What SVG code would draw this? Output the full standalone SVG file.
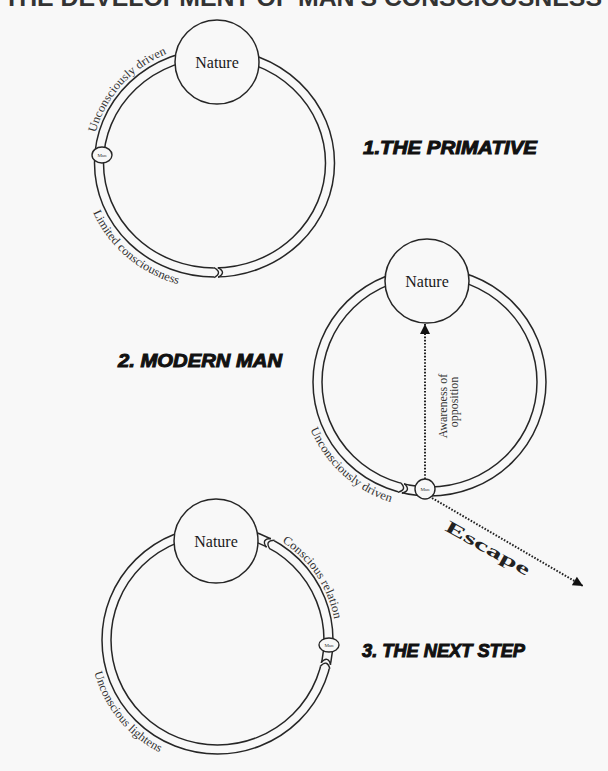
<svg xmlns="http://www.w3.org/2000/svg" width="608" height="771" viewBox="0 0 608 771">
<style>
.ring{fill:none;stroke:#262626;stroke-width:1.5}
.nat{fill:#f8f8f8;stroke:#262626;stroke-width:1.5}
.nt{font-family:"Liberation Serif","Times New Roman",serif;font-size:16px;fill:#1a1a1a;text-anchor:middle}
.lb{font-family:"Liberation Serif","Times New Roman",serif;font-size:12px;fill:#333}
.man{fill:#f8f8f8;stroke:#262626;stroke-width:1.4}
.mt{font-family:"Liberation Serif",serif;font-size:5px;fill:#333;text-anchor:middle}
.cr{fill:none;stroke:#262626;stroke-width:1.4}
.head{font-family:"Liberation Sans",Arial,sans-serif;font-weight:bold;font-style:italic;font-size:19px;fill:#111;stroke:#111;stroke-width:1}
.dot{fill:none;stroke:#222;stroke-width:2;stroke-dasharray:1.6 1.6}
</style>
<defs>
<marker id="ah" viewBox="0 0 10 10" refX="10" refY="5" markerWidth="12" markerHeight="10" markerUnits="userSpaceOnUse" orient="auto">
<path d="M0,0 L10,5 L0,10 z" fill="#111"/>
</marker>
<g id="cres">
<rect x="-4" y="-6" width="4" height="12" fill="#f8f8f8"/>
<path class="cr" d="M -4,-5 Q 5,0 -4,5 M 0,-5 Q 9,0 0,5"/>
</g>
<path id="p1a" d="M 95.7,132.7 A 123 117 0 0 1 170.4,52.5"/>
<path id="p1b" d="M 93.0,212.2 A 132 126 0 0 0 180.3,284.7"/>
<path id="p2a" d="M 310.4,429.2 A 128.5 126 0 0 0 394.1,503.1"/>
<path id="p3a" d="M 282.0,541.9 A 118.5 117 0 0 1 334.9,623.7"/>
<path id="p3b" d="M 94.3,672.6 A 127.5 126 0 0 0 167.7,756"/>
</defs>
<rect width="608" height="771" fill="#f8f8f8"/>
<text x="4" y="6" font-family="Liberation Sans,Arial,sans-serif" font-weight="bold" font-size="24" fill="#333" textLength="598" lengthAdjust="spacingAndGlyphs">THE DEVELOPMENT OF MAN'S CONSCIOUSNESS</text>

<g id="primitive">
<ellipse class="ring" cx="214.5" cy="163" rx="120" ry="114"/>
<ellipse class="ring" cx="214.5" cy="163" rx="111" ry="105"/>
<circle class="nat" cx="217" cy="62" r="42"/>
<text class="nt" x="217" y="68">Nature</text>
<ellipse class="man" cx="102" cy="155" rx="10" ry="8"/>
<text class="mt" x="102" y="157">Man</text>
<use href="#cres" transform="translate(218,272.5) rotate(-2)"/>
<text class="lb"><textPath href="#p1a" textLength="110" lengthAdjust="spacingAndGlyphs">Unconsciously driven</textPath></text>
<text class="lb"><textPath href="#p1b" textLength="115" lengthAdjust="spacingAndGlyphs">Limited consciousness</textPath></text>
</g>
<text class="head" x="363" y="154" textLength="174" lengthAdjust="spacingAndGlyphs">1.THE PRIMATIVE</text>

<g id="modern">
<ellipse class="ring" cx="429.5" cy="382" rx="116.5" ry="114"/>
<ellipse class="ring" cx="429.5" cy="382" rx="107.5" ry="105"/>
<circle class="nat" cx="427" cy="281" r="42"/>
<text class="nt" x="427" y="287">Nature</text>
<use href="#cres" transform="translate(403,488.4) rotate(13.7)"/>
<text class="lb"><textPath href="#p2a" textLength="112" lengthAdjust="spacingAndGlyphs">Unconsciously driven</textPath></text>
<text class="lb" font-size="11" text-anchor="middle" transform="translate(447,406) rotate(-90)">Awareness of</text>
<text class="lb" font-size="11" text-anchor="middle" transform="translate(458,402) rotate(-90)">opposition</text>
</g>
<g id="connectors">
<line class="dot" x1="425" y1="479" x2="425" y2="324" marker-end="url(#ah)"/>
<line class="dot" x1="432" y1="498" x2="583" y2="586" marker-end="url(#ah)"/>
</g>
<g id="man2">
<circle class="man" cx="425" cy="489" r="10"/>
<text class="mt" x="425" y="491">Man</text>
</g>
<text font-family="Liberation Serif,serif" font-weight="bold" font-size="17" fill="#222" text-anchor="middle" textLength="94" lengthAdjust="spacingAndGlyphs" transform="translate(485,553) rotate(29.2)">Escape</text>
<text class="head" x="118" y="367" textLength="164" lengthAdjust="spacingAndGlyphs">2.  MODERN MAN</text>

<g id="nextstep">
<ellipse class="ring" cx="217.5" cy="640" rx="115.5" ry="114"/>
<ellipse class="ring" cx="217.5" cy="640" rx="106.5" ry="105"/>
<circle class="nat" cx="216" cy="541" r="42"/>
<text class="nt" x="216" y="547">Nature</text>
<use href="#cres" transform="translate(268.7,542.9) rotate(-152.8)"/>
<use href="#cres" transform="translate(325.9,663.7) rotate(-77.3)"/>
<ellipse class="man" cx="329" cy="645" rx="10" ry="7"/>
<text class="mt" x="329" y="647">Man</text>
<text class="lb"><textPath href="#p3a" textLength="96" lengthAdjust="spacingAndGlyphs">Conscious relation</textPath></text>
<text class="lb"><textPath href="#p3b" textLength="106" lengthAdjust="spacingAndGlyphs">Unconscious lightens</textPath></text>
</g>
<text class="head" x="362" y="657" textLength="163" lengthAdjust="spacingAndGlyphs">3. THE NEXT STEP</text>
</svg>
